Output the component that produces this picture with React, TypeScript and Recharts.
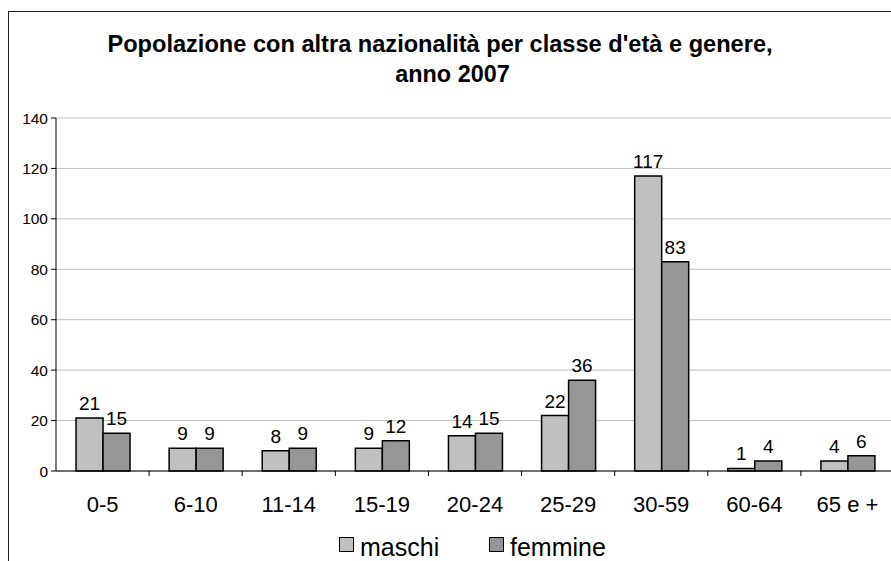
import React from 'react';
import { BarChart, Bar, XAxis, YAxis, CartesianGrid, Legend, LabelList } from 'recharts';

const categories = ['0-5', '6-10', '11-14', '15-19', '20-24', '25-29', '30-59', '60-64', '65 e +'];
const maschi = [21, 9, 8, 9, 14, 22, 117, 1, 4];
const femmine = [15, 9, 9, 12, 15, 36, 83, 4, 6];
const yTicks = [0, 20, 40, 60, 80, 100, 120, 140];
const seriesNames = ['maschi', 'femmine'];
const titleLines = ["Popolazione con altra nazionalità per classe d'età e genere,", 'anno 2007'];

const data = categories.map((c, i) => ({ cat: c, maschi: maschi[i], femmine: femmine[i] }));

const FONT = '"Liberation Sans", Arial, sans-serif';
const legendX = [339, 489];
const X_TICK_SIZE = 6;
const X_TICK_MARGIN = 19;

const LegendContent = (props: any) => {
  const payload = [...(props.payload || [])].sort(
    (a: any, b: any) => seriesNames.indexOf(a.value) - seriesNames.indexOf(b.value)
  );
  return (
    <svg width={900} height={33} style={{ display: 'block' }}>
      {payload.map((e: any, i: number) => (
        <g key={i}>
          <rect x={legendX[i] + 0.5} y={9.5} width={14} height={14} fill={e.color} stroke="#000" strokeWidth={1} />
          <text x={legendX[i] + 21} y={28} fontSize={25} fontFamily={FONT} fill="#000">{e.value}</text>
        </g>
      ))}
    </svg>
  );
};

const CatTick = (props: any) => {
  const { x, y, payload } = props;
  const half = payload && typeof payload.offset === 'number' ? payload.offset : 0;
  const axisY = y - X_TICK_SIZE - X_TICK_MARGIN;
  return (
    <g>
      {payload.index > 0 && half > 0 ? (
        <line x1={x - half} x2={x - half} y1={axisY} y2={axisY + 5} stroke="#000" strokeWidth={1} />
      ) : null}
      <text x={x} y={y} dy="0.71em" textAnchor="middle" fontSize={22} fontFamily={FONT} fill="#000">
        {payload.value}
      </text>
    </g>
  );
};

export default function App() {
  return (
    <div style={{ position: 'absolute', left: 0, top: 0, width: 891, height: 561, overflow: 'hidden', background: '#fff' }}>
      <div style={{ position: 'absolute', left: 8, top: 11, width: 950, height: 650, border: '1.5px solid #222', boxSizing: 'border-box' }} />
      <svg width={891} height={100} style={{ position: 'absolute', left: 0, top: 0 }}>
        <text x={440} y={52} textAnchor="middle" fontSize={23.6} fontWeight="bold" fontFamily={FONT} fill="#000">{titleLines[0]}</text>
        <text x={452.5} y={82} textAnchor="middle" fontSize={23.4} fontWeight="bold" fontFamily={FONT} fill="#000">{titleLines[1]}</text>
      </svg>
      <div style={{ position: 'absolute', left: 0, top: 0 }}>
        <BarChart
          width={900}
          height={561}
          data={data}
          margin={{ top: 118, right: 6, bottom: 0, left: 0 }}
          barCategoryGap="21.5%"
          barGap={0}
          style={{ fontFamily: FONT }}
        >
          <CartesianGrid horizontal vertical={false} stroke="#c0c0c0" strokeWidth={1} />
          <XAxis
            dataKey="cat"
            height={90}
            tickLine={false}
            tickSize={X_TICK_SIZE}
            tickMargin={X_TICK_MARGIN}
            axisLine={{ stroke: '#000' }}
            tick={<CatTick />}
            interval={0}
          />
          <YAxis
            width={56}
            domain={[0, 140]}
            ticks={yTicks}
            tickSize={5}
            tickMargin={3}
            axisLine={{ stroke: '#000' }}
            tickLine={{ stroke: '#000' }}
            tick={{ fontSize: 15.5, fill: '#000', fontFamily: FONT }}
          />
          <Legend
            layout="horizontal"
            verticalAlign="middle"
            align="center"
            wrapperStyle={{ left: 0, top: 528, width: 900, height: 33 }}
            content={<LegendContent />}
          />
          <Bar dataKey="maschi" name={seriesNames[0]} fill="#C0C0C0" stroke="#000" strokeWidth={1.5} isAnimationActive={false}>
            <LabelList dataKey="maschi" position="top" offset={8} fill="#000" fontSize={19} fontFamily={FONT} />
          </Bar>
          <Bar dataKey="femmine" name={seriesNames[1]} fill="#969696" stroke="#000" strokeWidth={1.5} isAnimationActive={false}>
            <LabelList dataKey="femmine" position="top" offset={8} fill="#000" fontSize={19} fontFamily={FONT} />
          </Bar>
        </BarChart>
      </div>
    </div>
  );
}
